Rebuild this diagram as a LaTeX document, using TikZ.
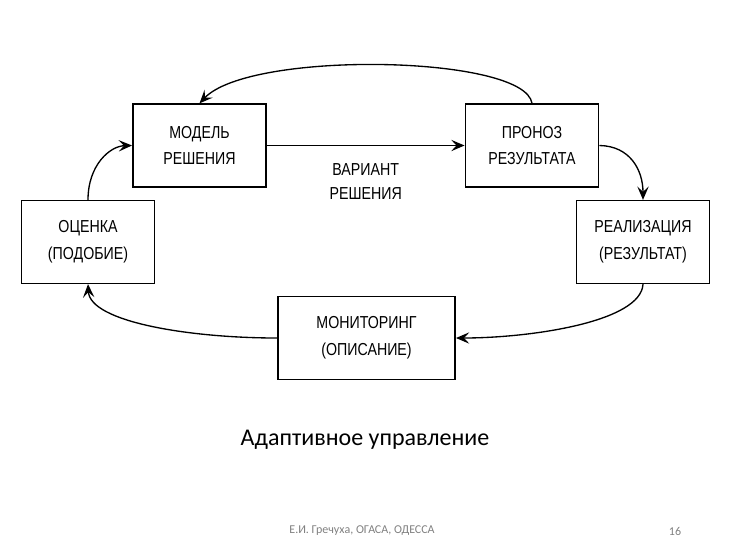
\documentclass[tikz,border=0pt]{standalone}
\usepackage{fontspec}
\setmainfont{Carlito}
\newfontfamily\boxfont[FakeStretch=0.82]{Liberation Sans}
\usetikzlibrary{arrows.meta}

\begin{document}
\begin{tikzpicture}[
  x=0.75pt, y=-0.75pt,
  >={Stealth[length=10pt,width=8.5pt,inset=4pt]},
  stagebox/.style={draw, line width=1.2pt, align=center, minimum width=100pt, minimum height=62pt, inner sep=2pt, font=\boxfont\fontsize{13}{20}\selectfont},
  lbl/.style={align=center, font=\boxfont\fontsize{13}{18}\selectfont},
  arr/.style={->, line width=1pt}
]
\useasboundingbox (0,0) rectangle (745,558);
\node[stagebox] (mdl) at (199.5,145.5) {МОДЕЛЬ\\РЕШЕНИЯ};
\node[stagebox] (prg) at (532,145.5) {ПРОНОЗ\\РЕЗУЛЬТАТА};
\node[stagebox] (ots) at (88,242) {ОЦЕНКА\\(ПОДОБИЕ)};
\node[stagebox] (rea) at (643,242) {РЕАЛИЗАЦИЯ\\(РЕЗУЛЬТАТ)};
\node[stagebox, minimum width=133pt] (mon) at (366.5,338) {МОНИТОРИНГ\\(ОПИСАНИЕ)};
\node[font=\fontsize{18}{20}\selectfont] (ttl) at (365,440) {Адаптивное управление};
\node[font=\fontsize{9}{10}\selectfont, text=gray] (ftr) at (362,531) {Е.И. Гречуха, ОГАСА, ОДЕССА};
\node[font=\fontsize{9}{10}\selectfont, text=gray] (pgn) at (675,531) {16};
\draw[arr] (mdl) -- node[lbl, yshift=-27pt] {ВАРИАНТ\\РЕШЕНИЯ} (prg);
\draw[arr] (prg.north) .. controls (525,55) and (250,50) .. (mdl.north);
\draw[arr] (ots.north) .. controls (88,165) and (110,146) .. (mdl.west);
\draw[arr] (prg.east) .. controls (630,146) and (643,170) .. (rea.north);
\draw[arr] (rea.south) .. controls (641,322) and (530,338) .. (mon.east);
\draw[arr] (mon.west) .. controls (190,338) and (90,322) .. (ots.south);
\end{tikzpicture}
\end{document}
